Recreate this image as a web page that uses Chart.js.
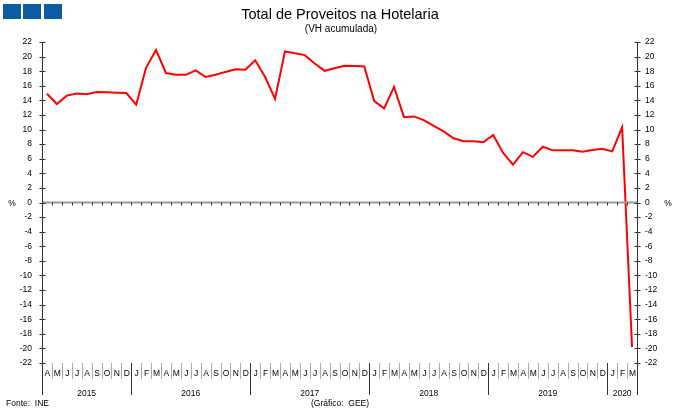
<!DOCTYPE html>
<html>
<head>
<meta charset="utf-8">
<script src="https://cdn.jsdelivr.net/npm/chart.js@4.4.1/dist/chart.umd.min.js"></script>
<style>
  html, body { margin: 0; padding: 0; background: #fff; }
  #wrap { width: 680px; height: 416px; position: relative; }
</style>
</head>
<body>
<div id="wrap"><canvas id="hotelaria-chart" width="680" height="416"></canvas></div>
<script>
// meses de Abril 2015 a Março 2020
const monthLabels = [
    'A', 'M', 'J', 'J', 'A', 'S', 'O', 'N', 'D',
    'J', 'F', 'M', 'A', 'M', 'J', 'J', 'A', 'S', 'O', 'N', 'D',
    'J', 'F', 'M', 'A', 'M', 'J', 'J', 'A', 'S', 'O', 'N', 'D',
    'J', 'F', 'M', 'A', 'M', 'J', 'J', 'A', 'S', 'O', 'N', 'D',
    'J', 'F', 'M', 'A', 'M', 'J', 'J', 'A', 'S', 'O', 'N', 'D',
    'J', 'F', 'M'
];
const yearLabels = ['2015', '2016', '2017', '2018', '2019', '2020'];
const yearFirstMonth = [0, 9, 21, 33, 45, 57];

// VH acumulada (%)
const proveitos = [
    14.9, 13.5, 14.65, 14.95, 14.85, 15.15, 15.1, 15.05, 15.0,
    13.4, 18.5, 20.9, 17.75, 17.5, 17.5, 18.1, 17.2, 17.5, 17.9, 18.25, 18.2,
    19.5, 17.2, 14.2, 20.7, 20.45, 20.2, 19.05, 18.05, 18.4, 18.75, 18.7, 18.65,
    13.9, 12.9, 15.85, 11.7, 11.8, 11.3, 10.5, 9.75, 8.8, 8.4, 8.4, 8.25,
    9.25, 6.8, 5.2, 6.9, 6.25, 7.65, 7.15, 7.15, 7.15, 6.95, 7.2, 7.35,
    7.0, 10.3, -19.8
];

const yMin = -22;
const yMax = 22;
const yStep = 2;

const tickFont = '8.5px "Liberation Sans", Arial, sans-serif';

const frame = {
    id: 'frame',
    afterDraw(chart) {
        const ctx = chart.ctx;
        const area = chart.chartArea;
        const x = chart.scales.x;
        const y = chart.scales.y;
        const half = (x.getPixelForValue(1) - x.getPixelForValue(0)) / 2;
        const y0 = y.getPixelForValue(0);
        ctx.save();

        // quadrados azuis
        ctx.fillStyle = '#0b5ba5';
        [3, 23, 44].forEach(function(sx) {
            ctx.fillRect(sx, 4, 18, 15);
        });

        // titulo
        ctx.fillStyle = '#000';
        ctx.textAlign = 'center';
        ctx.textBaseline = 'alphabetic';
        ctx.font = '14.5px "Liberation Sans", Arial, sans-serif';
        ctx.fillText('Total de Proveitos na Hotelaria', 340, 19);
        ctx.font = '10px "Liberation Sans", Arial, sans-serif';
        ctx.fillText('(VH acumulada)', 341, 32);

        // linha do zero
        ctx.strokeStyle = '#999';
        ctx.lineWidth = 2;
        ctx.beginPath();
        ctx.moveTo(area.left, y0);
        ctx.lineTo(area.right, y0);
        ctx.stroke();

        ctx.strokeStyle = '#333';
        ctx.lineWidth = 1;
        ctx.beginPath();
        for (let i = 1; i < monthLabels.length; i++) {
            const bx = Math.round(x.getPixelForValue(i) - half) + 0.5;
            ctx.moveTo(bx, y0);
            ctx.lineTo(bx, y0 + 3);
        }
        ctx.stroke();

        // eixos verticais
        const axisBottom = 395;
        [area.left, area.right].forEach(function(ax) {
            const px = Math.round(ax) + 0.5;
            ctx.beginPath();
            ctx.moveTo(px, area.top);
            ctx.lineTo(px, axisBottom);
            ctx.stroke();
            y.ticks.forEach(function(t) {
                const ty = Math.round(y.getPixelForValue(t.value)) + 0.5;
                ctx.beginPath();
                ctx.moveTo(px - 3, ty);
                ctx.lineTo(px + 3, ty);
                ctx.stroke();
            });
        });

        // separadores e letras dos meses
        ctx.font = tickFont;
        ctx.textAlign = 'center';
        ctx.fillStyle = '#000';
        for (let i = 0; i < monthLabels.length; i++) {
            const cx = x.getPixelForValue(i);
            ctx.fillText(monthLabels[i], cx + 0.5, 376);
            if (i > 0) {
                const bx = Math.round(cx - half) + 0.5;
                const isYear = yearFirstMonth.indexOf(i) >= 0;
                ctx.strokeStyle = isYear ? '#333' : '#aaa';
                ctx.beginPath();
                ctx.moveTo(bx, area.bottom);
                ctx.lineTo(bx, isYear ? axisBottom : 379);
                ctx.stroke();
            }
        }

        // anos
        yearLabels.forEach(function(label, k) {
            const first = yearFirstMonth[k];
            const last = k + 1 < yearFirstMonth.length ? yearFirstMonth[k + 1] - 1 : monthLabels.length - 1;
            const cx = (x.getPixelForValue(first) + x.getPixelForValue(last)) / 2;
            ctx.fillText(label, cx, 396);
        });

        // unidades
        ctx.fillText('%', 12, y0 + 3);
        ctx.fillText('%', 668, y0 + 3);

        // rodape
        ctx.textAlign = 'left';
        ctx.fillText('Fonte:  INE', 6, 406);
        ctx.textAlign = 'center';
        ctx.fillText('(Gráfico:  GEE)', 340, 406);

        ctx.restore();
    }
};

const ctx = document.getElementById('hotelaria-chart').getContext('2d');
const myChart = new Chart(ctx, {
    type: 'line',
    data: {
        labels: monthLabels,
        datasets: [{
            label: 'Total de Proveitos',
            data: proveitos,
            borderColor: '#ff0000',
            borderWidth: 2,
            pointRadius: 0,
            tension: 0,
            fill: false
        }]
    },
    options: {
        responsive: false,
        animation: false,
        events: [],
        layout: {
            padding: { top: 42, bottom: 53, left: 0, right: 0 }
        },
        plugins: {
            legend: { display: false },
            tooltip: { enabled: false },
            title: { display: false }
        },
        scales: {
            x: {
                type: 'category',
                offset: true,
                display: false
            },
            y: {
                position: 'left',
                min: yMin,
                max: yMax,
                afterFit: function(scale) { scale.width = 42; },
                ticks: {
                    stepSize: yStep,
                    padding: 10,
                    color: '#000',
                    font: { family: '"Liberation Sans", Arial, sans-serif', size: 8.5 }
                },
                grid: { display: false, drawTicks: false },
                border: { display: false }
            },
            y2: {
                position: 'right',
                min: yMin,
                max: yMax,
                afterFit: function(scale) { scale.width = 43; },
                ticks: {
                    stepSize: yStep,
                    padding: 8,
                    color: '#000',
                    font: { family: '"Liberation Sans", Arial, sans-serif', size: 8.5 }
                },
                grid: { display: false, drawTicks: false },
                border: { display: false }
            }
        }
    },
    plugins: [frame]
});
</script>
</body>
</html>
